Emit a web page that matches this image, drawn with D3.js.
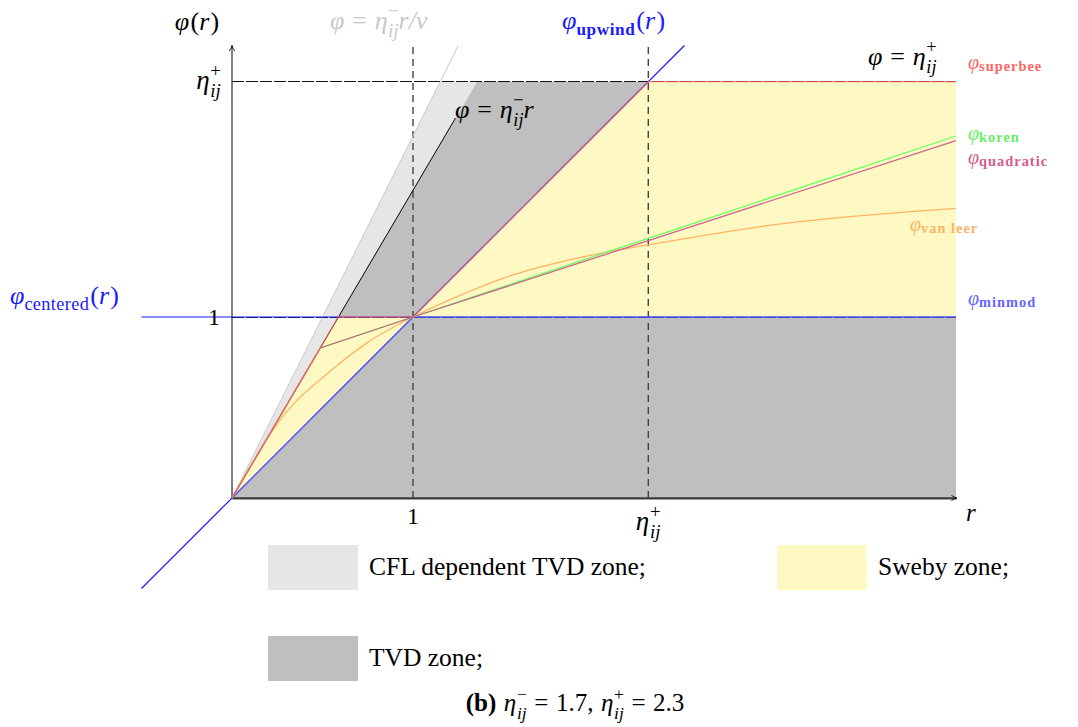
<!DOCTYPE html>
<html><head><meta charset="utf-8">
<script src="https://d3js.org/d3.v7.min.js"></script>
<style>
  body { margin: 0; background: #fff; }
  svg text { font-family: "Liberation Serif", "DejaVu Serif", serif; white-space: pre; }
</style>
</head>
<body>
<svg id="chart" width="1078" height="727"></svg>
<script>
// --- parameters and values
const etaMinus = 1.7, etaPlus = 2.3, cflSlope = 2.0;   // eta-/nu

const xTicks = [1, etaPlus];
const yTicks = [1, etaPlus];

// zones (r, phi corners)
const cflZone   = [[0, 0], [1.15, 2.3], [1.353, 2.3]];
const tvdZone   = [[0, 0], [1.353, 2.3], [4, 2.3], [4, 0]];
const swebyLow  = [[0, 0], [0.588, 1], [1, 1]];
const swebyHigh = [[1, 1], [2.3, 2.3], [4, 2.3], [4, 1]];

// limiters
const superbeeR = [0, 0.588, 1, 2.3, 4];
const superbeePhi = [0, 1, 1, 2.3, 2.3];
const minmodR = [0, 1, 4];
const minmodPhi = [0, 1, 1];
const korenR = [0, 0.488, 1, 2.3, 4];
const korenPhi = [0, 0.829, 1, 1.435, 2.0];
const quadR = [0, 0.488, 1, 2.3, 4];
const quadPhi = [0, 0.829, 1, 1.422, 1.975];
const vanLeerR = [0, 0.15, 0.25, 0.35, 0.5, 0.75, 1, 1.25, 1.5, 2, 2.3, 3, 4];
const vanLeerPhi = [0, 0.255, 0.41, 0.53, 0.665, 0.86, 1.0, 1.115, 1.215, 1.345, 1.398, 1.51, 1.60];

// reference lines
const upwindR = [-0.5, 2.5];
const centeredR = [-0.5, 4];
const cflLineR = [0, 1.25];
const etaLineR = [0, 1.235];

const svg = d3.select("#chart");
const x = d3.scaleLinear().domain([0, 4]).range([232, 956]);
const y = d3.scaleLinear().domain([0, 2.5]).range([498, 45.5]);
const line = d3.line().x(d => x(d[0])).y(d => y(d[1]));
const zip = (a, b) => a.map((v, i) => [v, b[i]]);

// --- helper for little math labels built from pieces
function mathText(parent, px, py, pieces, opt) {
  opt = opt || {};
  const size = opt.size || 20;
  const g = parent.append("g").attr("fill", opt.color || "#000");
  let cx = 0, lastW = 0;
  pieces.forEach(p => {
    cx += (p.pre || 0) * size;
    const t = g.append("text")
      .attr("x", cx).attr("y", (p.dy || 0) * size)
      .attr("font-size", (p.s || 1) * size)
      .attr("font-style", p.i ? "italic" : "normal")
      .attr("font-weight", p.b ? "bold" : "normal")
      .attr("letter-spacing", p.ls || null)
      .text(p.t);
    const w = t.node().getComputedTextLength();
    if (p.stack) {
      t.attr("x", cx - lastW);
      cx = cx - lastW + Math.max(w, lastW);
    } else {
      cx += w + (p.gap || 0) * size;
      lastW = w;
    }
  });
  const off = opt.anchor === "middle" ? -cx / 2 : opt.anchor === "end" ? -cx : 0;
  g.attr("transform", "translate(" + (px + off) + "," + py + ")");
  return g;
}
const eq = {t: "=", pre: .3, gap: .3};
const etaP = [{t: "η", i: 1, gap: .03}, {t: "+", s: .7, dy: -.45}, {t: "ij", i: 1, s: .7, dy: .3, stack: 1}];
const etaM = [{t: "η", i: 1, gap: .03}, {t: "−", s: .7, dy: -.45}, {t: "ij", i: 1, s: .7, dy: .3, stack: 1}];

// --- zones
const zones = svg.append("g");
zones.append("path").attr("d", line(tvdZone) + "Z").attr("fill", "#bfbfbf");
zones.append("path").attr("d", line(cflZone) + "Z").attr("fill", "#e6e6e6");
zones.append("path").attr("d", line(swebyLow) + "Z").attr("fill", "#fef9c3");
zones.append("path").attr("d", line(swebyHigh) + "Z").attr("fill", "#fef9c3");

// --- dashed helpers
const guides = svg.append("g").attr("fill", "none");
xTicks.forEach(v => {
  guides.append("path").attr("d", line([[v, 0], [v, 2.5]]))
    .attr("stroke", "#444").attr("stroke-width", 1.4).attr("stroke-dasharray", "7,5");
});
yTicks.forEach(v => {
  guides.append("path").attr("d", line([[0, v], [4, v]]))
    .attr("stroke", "#111").attr("stroke-width", 1).attr("stroke-dasharray", "12,2")
    .attr("shape-rendering", "crispEdges");
});

// --- reference lines
const refs = svg.append("g").attr("fill", "none");
refs.append("path").attr("d", line(cflLineR.map(r => [r, cflSlope * r])))
  .style("stroke", "#c8c8c8").style("stroke-width", 1);
refs.append("path").attr("d", line(etaLineR.map(r => [r, etaMinus * r])))
  .style("stroke", "#000").style("stroke-width", 1);
refs.append("path").attr("d", line(upwindR.map(r => [r, r])))
  .style("stroke", "#1a1aff").style("stroke-width", 1.2);
refs.append("path").attr("d", line(centeredR.map(r => [r, 1])))
  .style("stroke", "#1a1aff").style("stroke-width", 1.2);

// --- axes
svg.append("defs").append("marker")
  .attr("id", "arr").attr("viewBox", "0 -5 10 10").attr("refX", 9).attr("refY", 0)
  .attr("markerWidth", 7).attr("markerHeight", 7).attr("orient", "auto")
  .append("path").attr("d", "M1,-4 Q5,-1 9,0 Q5,1 1,4").attr("fill", "none")
  .attr("stroke", "#000").attr("stroke-width", 1.2);

svg.append("g").attr("transform", "translate(0," + y(0) + ")")
  .call(d3.axisBottom(x).tickValues(xTicks).tickFormat("").tickSize(0))
  .select(".domain").attr("stroke", "#444").attr("stroke-width", 1.8);
svg.append("path").attr("d", line([[0, 0], [4.005, 0]])).attr("stroke", "#333")
  .attr("stroke-width", 1).attr("marker-end", "url(#arr)");
svg.append("path").attr("d", line([[0, 0], [0, 2.5]])).attr("stroke", "#000")
  .attr("stroke-width", 1).attr("marker-end", "url(#arr)");

// --- limiters
const lim = svg.append("g").attr("fill", "none").attr("stroke-width", 1.3);
lim.append("path").attr("d", d3.line().curve(d3.curveMonotoneX).x(d => x(d[0])).y(d => y(d[1]))(zip(vanLeerR, vanLeerPhi)))
  .attr("stroke", "#ffb366");
lim.append("path").attr("d", line(zip(minmodR, minmodPhi))).attr("stroke", "#6666ff").attr("opacity", 0.8);
lim.append("path").attr("d", line(zip(korenR, korenPhi))).attr("stroke", "#66ff66");
lim.append("path").attr("d", line(zip(quadR, quadPhi))).attr("stroke", "#cc5585").attr("opacity", 0.9);
lim.append("path").attr("d", line(zip(superbeeR, superbeePhi))).attr("stroke", "#ff6666").attr("opacity", 0.75);

// --- tick labels
const lab = svg.append("g");
mathText(lab, 220, 325, [{t: "1"}], {size: 24, anchor: "end"});
mathText(lab, 221, 89, etaP, {size: 27, anchor: "end"});
mathText(lab, x(1), 524, [{t: "1"}], {size: 24, anchor: "middle"});
mathText(lab, x(etaPlus), 530, etaP, {size: 27, anchor: "middle"});
mathText(lab, 966, 521, [{t: "r", i: 1}], {size: 25});
mathText(lab, 197, 30, [{t: "φ", i: 1, gap: .05}, {t: "("}, {t: "r", i: 1, gap: .05}, {t: ")"}], {size: 26, anchor: "middle"});

// --- line labels
mathText(lab, 330, 29, [{t: "φ", i: 1}, eq].concat(etaM, [{t: "r/ν", i: 1}]), {size: 26, color: "#c8c8c8"});
mathText(lab, 455, 118, [{t: "φ", i: 1}, eq].concat(etaM, [{t: "r", i: 1}]), {size: 26});
mathText(lab, 868, 65, [{t: "φ", i: 1}, eq].concat(etaP), {size: 26});
mathText(lab, 562, 29, [{t: "φ", i: 1}, {t: "upwind", b: 1, s: .66, dy: .22, ls: .6, gap: .04}, {t: "("}, {t: "r", i: 1, gap: .05}, {t: ")"}], {size: 26, color: "#1a1aff"});
mathText(lab, 10, 304, [{t: "φ", i: 1}, {t: "centered", s: .7, dy: .22, ls: .4, gap: .04}, {t: "("}, {t: "r", i: 1, gap: .05}, {t: ")"}], {size: 26, color: "#1a1aff"});

const side = [
  {name: "superbee", x: 968, y: 69, color: "#ff6666"},
  {name: "koren", x: 968, y: 140, color: "#66ee66"},
  {name: "quadratic", x: 968, y: 164, color: "#d45c8a"},
  {name: "van leer", x: 910, y: 231, color: "#ffb366"},
  {name: "minmod", x: 968, y: 305, color: "#6666ff"}
];
side.forEach(s => {
  mathText(lab, s.x, s.y, [{t: "φ", i: 1}, {t: s.name, b: 1, s: .72, dy: .08, ls: 1}], {size: 20, color: s.color});
});

// --- legend
const legend = [
  {text: "CFL dependent TVD zone;", color: "#e6e6e6", x: 268, y: 545},
  {text: "Sweby zone;", color: "#fef9c3", x: 777, y: 545},
  {text: "TVD zone;", color: "#bfbfbf", x: 268, y: 636}
];
legend.forEach(l => {
  svg.append("rect").attr("x", l.x).attr("y", l.y).attr("width", 90).attr("height", 45).attr("fill", l.color);
  svg.append("text").attr("x", l.x + 101).attr("y", l.y + 30).attr("font-size", 25.5).text(l.text);
});

// --- caption
mathText(svg, 575, 711, [{t: "(b)", b: 1, gap: .3}].concat(etaM, [eq, {t: "1.7,", gap: .3}], etaP, [eq, {t: "2.3"}]), {size: 25, anchor: "middle"});
</script>
</body></html>
